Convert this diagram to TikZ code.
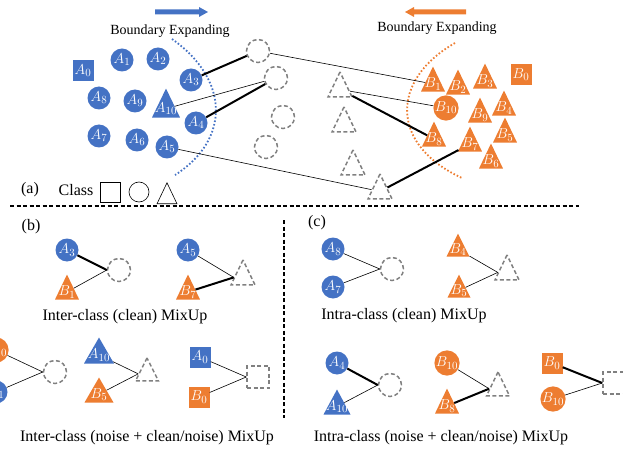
\documentclass[tikz,border=0pt]{standalone}
\usepackage{fontspec}
\setmainfont{Liberation Serif}
\usetikzlibrary{shapes.geometric}
\definecolor{ablue}{HTML}{4472C4}
\definecolor{borange}{HTML}{ED7D31}
\definecolor{dgray}{HTML}{808080}
\newcommand{\tlab}[1]{\smash{\makebox[0pt]{\raisebox{-4pt}{$#1$}}}}
\tikzset{
lab/.style={text=white, font=\fontsize{15}{15}\selectfont, inner sep=0pt},
bcirc/.style={circle, fill=ablue, minimum size=23pt, lab},
ocirc/.style={circle, fill=borange, minimum size=24pt, lab},
bsq/.style={rectangle, fill=ablue, minimum size=21pt, lab},
osq/.style={rectangle, fill=borange, minimum size=21pt, lab},
tri/.style={isosceles triangle, isosceles triangle stretches, shape border rotate=90, minimum width=24pt, minimum height=25pt, inner sep=0pt, anchor=apex},
btri/.style={tri, fill=ablue, lab},
otri/.style={tri, fill=borange, lab},
mix/.style={draw=dgray, line width=1.5pt, dash pattern=on 4pt off 2.5pt},
dcirc/.style={circle, mix, minimum size=23pt, inner sep=0pt},
dtri/.style={tri, mix},
dsq/.style={rectangle, mix, minimum size=22pt, inner sep=0pt},
light/.style={line width=0.6pt},
heavy/.style={line width=2pt},
caption/.style={font=\fontsize{16}{18}\selectfont, inner sep=0pt},
bound/.style={font=\fontsize{14}{16}\selectfont, inner sep=0pt}
}
\begin{document}
\begin{tikzpicture}
[x=1pt, y=-1pt]
\useasboundingbox (0,0) rectangle (623,449);
\clip (0,0) rectangle (623,449);
% (a)
\fill[ablue] (155,9.5) -- (199,9.5) -- (199,7) -- (208,12) -- (199,17) -- (199,14.5) -- (155,14.5) -- cycle;
\fill[borange] (466,9.5) -- (414,9.5) -- (414,7) -- (405,12) -- (414,17) -- (414,14.5) -- (466,14.5) -- cycle;
\node[bound] (expa) at (170,31) {Boundary Expanding};
\node[bound] (expb) at (437,28) {Boundary Expanding};
\draw[ablue, line width=1.8pt, dash pattern=on 1.6pt off 2pt] (172,39) .. controls (230,80) and (230,140) .. (175,175);
\draw[borange, line width=1.8pt, dash pattern=on 1.6pt off 2pt] (455,43) .. controls (390,80) and (390,145) .. (462,178);
\node[bsq] (a0) at (83,71) {$A_{0}$};
\node[bcirc] (a1) at (122,60) {$A_{1}$};
\node[bcirc] (a2) at (158,59) {$A_{2}$};
\node[bcirc] (a3) at (191,80) {$A_{3}$};
\node[bcirc] (a8) at (99,98) {$A_{8}$};
\node[bcirc] (a9) at (135,101) {$A_{9}$};
\node[btri, minimum width=28pt, minimum height=29pt] (a10) at (166,88) {\tlab{A_{10}}};
\node[bcirc] (a4) at (196,123) {$A_{4}$};
\node[bcirc] (a7) at (99,136) {$A_{7}$};
\node[bcirc] (a6) at (137,140) {$A_{6}$};
\node[bcirc] (a5) at (167,147) {$A_{5}$};
\node[dcirc] (c1) at (258,51) {};
\node[dcirc] (c2) at (276,78) {};
\node[dcirc] (c3) at (283,117) {};
\node[dcirc] (c4) at (266,147) {};
\node[dtri] (t1) at (340,70) {};
\node[dtri] (t2) at (344,105) {};
\node[dtri] (t3) at (353,148) {};
\node[dtri] (t4) at (380,172) {};
\node[otri] (b1) at (433,66) {\tlab{B_{1}}};
\node[otri] (b2) at (458,69) {\tlab{B_{2}}};
\node[otri] (b3) at (485,63) {\tlab{B_{3}}};
\node[osq] (b0) at (521,75) {$B_{0}$};
\node[ocirc, minimum size=25pt] (b10) at (446,108) {$B_{10}$};
\node[otri] (b9) at (480,97) {\tlab{B_{9}}};
\node[otri] (b4) at (504,90) {\tlab{B_{4}}};
\node[otri] (b8) at (434,121) {\tlab{B_{8}}};
\node[otri] (b7) at (470,126) {\tlab{B_{7}}};
\node[otri] (b5) at (505,117) {\tlab{B_{5}}};
\node[otri] (b6) at (491,143) {\tlab{B_{6}}};
\draw[heavy] (a3) -- (c1);
\draw[light] (a10) -- (c2);
\draw[heavy] (a4) -- (c2);
\draw[light] (a5) -- (t4);
\draw[light] (c1) -- (b1);
\draw[light] (t1) -- (b10);
\draw[heavy] (t1) -- (b8);
\draw[heavy] (t4) -- (b7);
\node[caption] (la) at (30,190) {(a)};
\node[caption] (cls) at (76,190) {Class};
\node[draw, line width=0.6pt, minimum size=20pt, inner sep=0pt] (ksq) at (110,192) {};
\node[draw, circle, line width=0.6pt, minimum size=20pt, inner sep=0pt] (kci) at (139,192) {};
\node[tri, draw, line width=0.6pt, minimum width=20pt, minimum height=21pt] (ktr) at (167,182) {};
\draw[line width=1.3pt, dash pattern=on 4pt off 2.5pt] (10,206) -- (579,206);
\draw[line width=1.3pt, dash pattern=on 4pt off 2.5pt] (284,220) -- (284,418);
% (b)
\node[caption] (lb) at (31,227) {(b)};
\node[bcirc] (ba3) at (67,250) {$A_{3}$};
\node[otri] (bb1) at (67,274) {\tlab{B_{1}}};
\node[dcirc] (bc1) at (119,270) {};
\draw[heavy] (ba3) -- (bc1.west);
\draw[light] (bb1) -- (bc1.west);
\node[bcirc] (ba5) at (188,250) {$A_{5}$};
\node[otri] (bb7) at (188,274) {\tlab{B_{7}}};
\node[dtri] (bt1) at (243,258) {};
\draw[light] (ba5) -- (bt1.west);
\draw[heavy] (bb7) -- (bt1.west);
\node[caption] (capb1) at (125,317) {Inter-class (clean) MixUp};
\node[ocirc] (bb10) at (-4,350) {$B_{10}$};
\node[bcirc] (ba1) at (-4,392) {$A_{1}$};
\node[dcirc] (bc2) at (55,372) {};
\draw[light] (bb10) -- (bc2.west);
\draw[light] (ba1) -- (bc2.west);
\node[btri, minimum width=30pt, minimum height=26pt] (ba10) at (99,337) {\tlab{A_{10}}};
\node[otri, minimum width=29pt] (bb5) at (99,377) {\tlab{B_{5}}};
\node[dtri, minimum width=23pt, minimum height=23pt] (bt2) at (147,356) {};
\draw[light] (ba10) -- (bt2.west);
\draw[light] (bb5) -- (bt2.west);
\node[bsq] (ba0) at (200,357) {$A_{0}$};
\node[osq] (bb0) at (199,397) {$B_{0}$};
\node[dsq] (bs1) at (258,377) {};
\draw[light] (ba0) -- (bs1.west);
\draw[light] (bb0) -- (bs1.west);
\node[caption] (capb2) at (147,438) {Inter-class (noise + clean/noise) MixUp};
% (c)
\node[caption] (lc) at (317,223) {(c)};
\node[bcirc] (ca8) at (333,249) {$A_{8}$};
\node[bcirc] (ca7) at (333,287) {$A_{7}$};
\node[dcirc] (cc1) at (392,269) {};
\draw[light] (ca8) -- (cc1.west);
\draw[light] (ca7) -- (cc1.west);
\node[otri, minimum width=23pt, minimum height=23pt] (cb4) at (458,233) {\tlab{B_{4}}};
\node[otri, minimum width=23pt, minimum height=23pt] (cb5) at (459,274) {\tlab{B_{5}}};
\node[dtri] (ct1) at (507,253) {};
\draw[light] (cb4) -- (ct1.west);
\draw[light] (cb5) -- (ct1.west);
\node[caption] (capc1) at (404,316) {Intra-class (clean) MixUp};
\node[bcirc] (ca4) at (337,363) {$A_{4}$};
\node[btri, minimum width=27pt] (ca10) at (337,389) {\tlab{A_{10}}};
\node[dcirc] (cc2) at (390,385) {};
\draw[heavy] (ca4) -- (cc2.west);
\draw[light] (ca10) -- (cc2.west);
\node[ocirc] (cb10) at (447,363) {$B_{10}$};
\node[otri] (cb8) at (447,388) {\tlab{B_{8}}};
\node[dtri, minimum width=23pt, minimum height=24pt] (ct2) at (498,370) {};
\draw[light] (cb10) -- (ct2.west);
\draw[heavy] (cb8) -- (ct2.west);
\node[osq] (cb0) at (552,363) {$B_{0}$};
\node[ocirc] (cb10b) at (553,399) {$B_{10}$};
\node[dsq] (cs1) at (614,383) {};
\draw[heavy] (cb0) -- (cs1.west);
\draw[light] (cb10b) -- (cs1.west);
\node[caption] (capc2) at (441,438) {Intra-class (noise + clean/noise) MixUp};
\end{tikzpicture}
\end{document}
